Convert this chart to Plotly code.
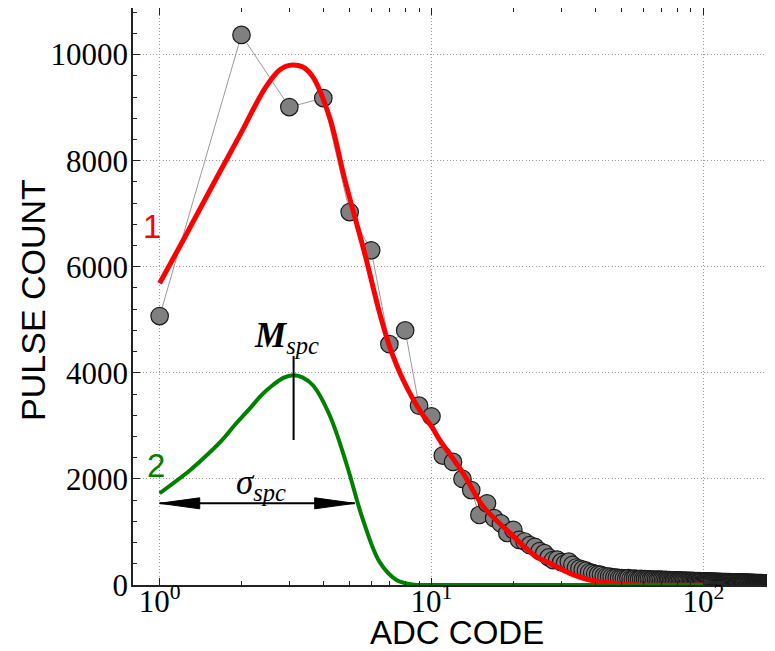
import plotly.graph_objects as go
import math

# ---------------- data ----------------
adc_code = list(range(1, 201))
pulse_count = [
    5070, 10370, 9010, 9180, 7030, 6310, 4540, 4800, 3380, 3180,
    2440, 2320, 2000, 1790, 1320, 1540, 1260, 1160, 980, 1040,
    850, 820, 750, 720, 640, 600, 520, 470, 480, 430,
    410, 440, 380, 330, 310, 290, 270, 240, 230, 210,
    200, 190, 170, 160, 160, 150, 140, 140, 130, 130,
    125, 120, 128, 118, 115, 120, 112, 110, 115, 108,
    110, 105, 108, 100, 104, 98, 102, 96, 100, 95,
    97, 92, 95, 90, 93, 88, 90, 86, 89, 84,
    86, 82, 85, 80, 83, 78, 80, 77, 79, 75,
    77, 73, 75, 71, 74, 70, 72, 68, 70, 66,
    68, 65, 67, 63, 66, 62, 64, 61, 63, 59,
    61, 58, 60, 57, 59, 55, 57, 54, 56, 53,
    55, 52, 54, 51, 53, 50, 52, 49, 51, 48,
    50, 47, 49, 46, 48, 45, 47, 44, 46, 43,
    45, 42, 44, 41, 43, 40, 42, 39, 41, 38,
    40, 37, 39, 36, 38, 35, 37, 34, 36, 33,
    35, 32, 34, 31, 33, 30, 32, 29, 31, 28,
    30, 27, 29, 26, 28, 25, 27, 24, 26, 23,
    25, 22, 24, 21, 23, 20, 22, 19, 21, 18,
    20, 17, 19, 16, 18, 15, 17, 14, 16, 13,
]

fit1_x = [1, 1.215, 1.61, 2.02, 2.2, 2.46, 2.75, 2.9, 3.09, 3.35, 3.66, 4.21, 4.80,
          5.68, 6.45, 7.02, 7.86, 9.19, 10.0, 10.73, 11.85, 13.07, 15.49, 18.88,
          24.35, 27.3, 32.3, 38.2, 45.3, 58, 100]
fit1_y = [5690, 6480, 7650, 8580, 8950, 9390, 9700, 9775, 9805, 9770, 9580, 8830, 7640,
          6250, 5120, 4490, 3870, 3240, 2990, 2730, 2420, 2110, 1480, 1040,
          530, 410, 220, 94, 43, 0, 0]

fit2_x = [1, 1.29, 1.5, 1.71, 1.9, 2.14, 2.37, 2.61, 2.85, 3.095, 3.35, 3.67, 4.22,
          4.87, 5.60, 6.45, 7.43, 8.5, 10, 100]
fit2_y = [1730, 2160, 2460, 2750, 3030, 3320, 3580, 3770, 3905, 3955, 3915, 3760, 3200,
          2280, 1225, 430, 94, 10, 0, 0]

x_tick_vals = [1, 10, 100]
x_tick_text = ["10<sup>0</sup>", "10<sup>1</sup>", "10<sup>2</sup>"]
x_minor_vals = [2, 3, 4, 5, 6, 7, 8, 9, 20, 30, 40, 50, 60, 70, 80, 90, 200, 300]

# annotation geometry (data units)
M_SPC_X = 3.11
M_SPC_Y0, M_SPC_Y1 = 2734, 4317
SIGMA_X0, SIGMA_X1 = 1.0, 5.22
SIGMA_Y = 1540
HEAD_FACTOR = 1.404   # arrow-head length as a ratio along the log axis
HEAD_HALF = 104       # arrow-head half-width in count units

SERIF = "Liberation Serif"
SANS = "Liberation Sans"

fig = go.Figure()

fig.add_trace(go.Scatter(
    x=adc_code, y=pulse_count, mode="lines+markers",
    line=dict(color="#9a9a9a", width=1),
    marker=dict(size=17.5, color="#808080", line=dict(color="#1a1a1a", width=1.2)),
    showlegend=False, hoverinfo="skip"))

fig.add_trace(go.Scatter(
    x=fit1_x, y=fit1_y, mode="lines",
    line=dict(color="#ff0000", width=5, shape="spline", smoothing=1),
    showlegend=False, hoverinfo="skip"))

fig.add_trace(go.Scatter(
    x=fit2_x, y=fit2_y, mode="lines",
    line=dict(color="#008000", width=4, shape="spline", smoothing=1),
    showlegend=False, hoverinfo="skip"))

# M_spc marker line
fig.add_trace(go.Scatter(
    x=[M_SPC_X, M_SPC_X], y=[M_SPC_Y0, M_SPC_Y1], mode="lines",
    line=dict(color="black", width=2), showlegend=False, hoverinfo="skip"))

# sigma_spc double arrow: shaft
fig.add_trace(go.Scatter(
    x=[SIGMA_X0, SIGMA_X1], y=[SIGMA_Y, SIGMA_Y], mode="lines",
    line=dict(color="black", width=2), showlegend=False, hoverinfo="skip"))
# heads
for tip, back in [(SIGMA_X0, SIGMA_X0 * HEAD_FACTOR), (SIGMA_X1, SIGMA_X1 / HEAD_FACTOR)]:
    fig.add_trace(go.Scatter(
        x=[tip, back, back, tip], y=[SIGMA_Y, SIGMA_Y + HEAD_HALF, SIGMA_Y - HEAD_HALF, SIGMA_Y],
        mode="lines", fill="toself", fillcolor="black",
        line=dict(color="black", width=1), showlegend=False, hoverinfo="skip"))

annots = [
    dict(x=math.log10(0.935), y=6750, text="1", font=dict(family=SANS, size=33, color="#ff0000")),
    dict(x=math.log10(0.967), y=2244, text="2", font=dict(family=SANS, size=33, color="#008000")),
    dict(x=math.log10(2.93), y=4660, text="<b><i>M</i></b><sub><i>spc</i></sub>",
         font=dict(family=SERIF, size=35, color="black")),
    dict(x=math.log10(2.35), y=1900, text="<i>σ</i><sub><i>spc</i></sub>",
         font=dict(family=SERIF, size=35, color="black")),
]
for a in annots:
    fig.add_annotation(xref="x", yref="y", showarrow=False, xanchor="center", yanchor="middle", **a)

# axis titles
fig.add_annotation(xref="paper", yref="paper", x=0.5047, y=-0.0825, text="ADC CODE",
                   showarrow=False, xanchor="center", yanchor="middle",
                   font=dict(family=SANS, size=33, color="black"))
fig.add_annotation(xref="paper", yref="paper", x=-0.1558, y=0.494, text="PULSE COUNT",
                   showarrow=False, xanchor="center", yanchor="middle", textangle=-90,
                   font=dict(family=SANS, size=34, color="black"))

axis_common = dict(
    showline=True, linecolor="#222222", linewidth=1.5,
    ticks="inside", ticklen=7, tickwidth=1, tickcolor="#222222",
    showgrid=True, gridcolor="#9a9a9a", gridwidth=1, griddash="1px,2.3px",
    zeroline=False,
    tickfont=dict(family=SERIF, size=31, color="black"),
)

fig.update_xaxes(
    type="log", range=[-0.098, 2.2635],
    tickmode="array", tickvals=x_tick_vals, ticktext=x_tick_text,
    mirror="ticks", ticklabelstandoff=-12,
    minor=dict(tickmode="array", tickvals=x_minor_vals, ticks="inside", ticklen=4,
               tickcolor="#222222", showgrid=False),
    **axis_common)

fig.update_yaxes(
    range=[0, 10878], tickmode="linear", tick0=0, dtick=2000, tickformat="d",
    mirror=False, ticklabelstandoff=-3,
    minor=dict(dtick=400, ticks="inside", ticklen=4, tickcolor="#222222", showgrid=False),
    **axis_common)

# the page adds an 8px body margin; the figure is sized so that it fills the 775x651 window
fig.update_layout(
    width=767, height=643,
    margin=dict(l=125, r=0, t=0, b=66, autoexpand=False),
    paper_bgcolor="white", plot_bgcolor="white",
    showlegend=False,
)

fig.write_html("out.html")
